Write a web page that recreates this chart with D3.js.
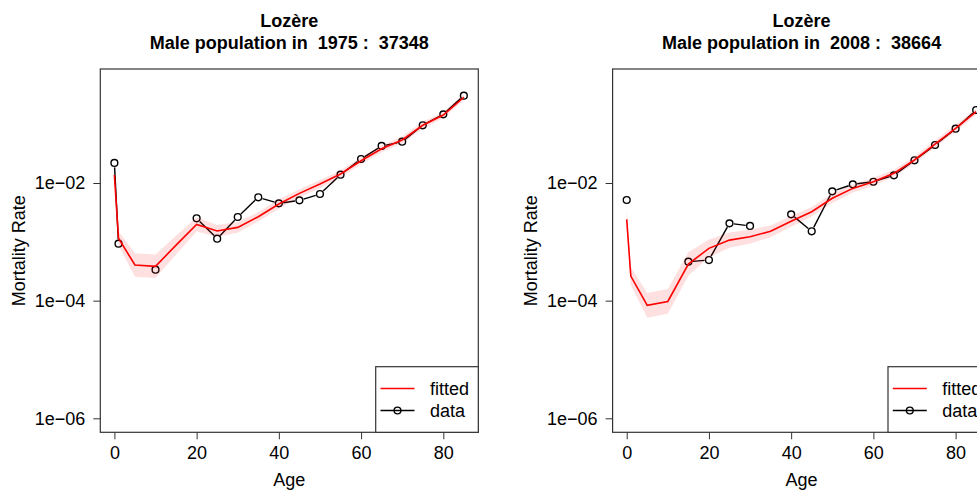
<!DOCTYPE html>
<html>
<head>
<meta charset="utf-8">
<script src="https://cdn.jsdelivr.net/npm/d3@7"></script>
<style>
  html, body { margin: 0; padding: 0; background: #fff; }
  svg { display: block; font-family: "Liberation Sans", Arial, Helvetica, sans-serif; }
  text { white-space: pre; }
</style>
</head>
<body>
<svg id="chart" width="977" height="490"></svg>
<script>
// ---------- data ----------
const ages = [0, 1, 5, 10, 15, 20, 25, 30, 35, 40, 45, 50, 55, 60, 65, 70, 75, 80, 85];

const region = "Lozère";
const years = [1975, 2008];
const populations = [37348, 38664];

// 1975
const data1975 = [0.0219, 0.00093, null, 0.000336, null, 0.00251, 0.00113, 0.00264, 0.00571, 0.00451,
                  0.00507, 0.0065, 0.01384, 0.0256, 0.0426, 0.0504, 0.0957, 0.147, 0.305];
const fitted1975 = [0.0137, 0.00115, 0.000403, 0.000383, 0.00088, 0.00198, 0.00153, 0.00176, 0.00267, 0.0044,
                    0.00667, 0.0096, 0.0142, 0.0239, 0.0383, 0.0538, 0.0957, 0.143, 0.287];
const lower1975 = [0.01088, 0.000873, 0.000254, 0.000242, 0.000609, 0.001502, 0.001215, 0.001431, 0.002221, 0.00366,
                   0.00568, 0.00817, 0.01237, 0.0208, 0.0334, 0.0469, 0.0834, 0.1274, 0.2558];
const upper1975 = [0.01725, 0.001516, 0.000639, 0.000607, 0.001272, 0.00261, 0.001926, 0.002165, 0.00321, 0.00529,
                   0.00784, 0.01128, 0.0163, 0.0274, 0.044, 0.0618, 0.1099, 0.1604, 0.322];

// 2008
const data2008 = [0.00514, null, null, null, 0.000459, 0.00049, 0.00206, 0.00186, null, 0.00293,
                  0.00151, 0.00721, 0.00949, 0.0105, 0.0135, 0.0243, 0.0443, 0.0838, 0.174];
const fitted2008 = [0.00241, 0.000262, 0.000083, 0.000097, 0.000419, 0.000775, 0.00107, 0.00122, 0.00151, 0.00223,
                    0.00325, 0.0055, 0.0081, 0.0105, 0.0146, 0.0246, 0.046, 0.085, 0.163];
const lower2008 = [0.00163, 0.0001854, 0.0000512, 0.0000598, 0.0002644, 0.000548, 0.000793, 0.000925, 0.001199, 0.001813,
                   0.002704, 0.004576, 0.006894, 0.008936, 0.01272, 0.02143, 0.04007, 0.07404, 0.1453];
const upper2008 = [0.003565, 0.0003702, 0.0001346, 0.0001573, 0.000664, 0.001095, 0.001443, 0.001608, 0.001901, 0.002743,
                   0.003907, 0.00661, 0.00952, 0.01234, 0.01676, 0.02824, 0.0528, 0.0976, 0.1829];

const xTicks = [0, 20, 40, 60, 80];
const yTicks = [1e-6, 1e-4, 1e-2];
const yTickLabels = ["1e\u221206", "1e\u221204", "1e\u221202"];
const legendLabels = ["fitted", "data"];

// ---------- layout ----------
const svg = d3.select("#chart");
const FONT = 18;
const panelShift = 512.3;
const box = { left: 100.3, top: 69, right: 478.3, bottom: 432.3 };

function drawPanel(offset, year, pop, dat, fit, lo, hi) {
  const g = svg.append("g").attr("transform", `translate(${offset},0)`);
  const x = d3.scaleLinear().domain([0, 80]).range([114.4, 443.3]);
  const y = d3.scaleLog().domain([1e-6, 1e-2]).range([418.3, 183]);
  const cx = (box.left + box.right) / 2;

  // titles
  g.append("text").attr("x", cx).attr("y", 27).attr("text-anchor", "middle")
    .attr("font-size", FONT).attr("font-weight", "bold").text(region);
  g.append("text").attr("x", cx).attr("y", 49).attr("text-anchor", "middle")
    .attr("font-size", FONT).attr("font-weight", "bold")
    .text(`Male population in  ${year} :  ${pop}`);

  // data (type "b": points with gapped segments)
  const pts = ages.map((a, i) => dat[i] == null ? null : [x(a), y(dat[i])]);
  const gap = 4.4;
  for (let i = 0; i < pts.length - 1; i++) {
    const p = pts[i], q = pts[i + 1];
    if (!p || !q) continue;
    const dx = q[0] - p[0], dy = q[1] - p[1];
    const d = Math.hypot(dx, dy);
    if (d <= 2 * gap) continue;
    const ux = dx / d, uy = dy / d;
    g.append("line")
      .attr("x1", p[0] + ux * gap).attr("y1", p[1] + uy * gap)
      .attr("x2", q[0] - ux * gap).attr("y2", q[1] - uy * gap)
      .attr("stroke", "#000").attr("stroke-width", 1.4);
  }
  g.selectAll("circle.pt").data(pts.filter(p => p)).join("circle")
    .attr("class", "pt")
    .attr("cx", d => d[0]).attr("cy", d => d[1]).attr("r", 3.4)
    .attr("fill", "none").attr("stroke", "#000").attr("stroke-width", 1.4);

  // confidence band
  const area = d3.area()
    .x((d, i) => x(ages[i]))
    .y0((d, i) => y(lo[i]))
    .y1((d, i) => y(hi[i]));
  g.append("path").datum(ages).attr("d", area)
    .attr("fill", "rgb(255,0,0)").attr("fill-opacity", 0.12).attr("stroke", "none");

  // fitted line
  const line = d3.line().x((d, i) => x(ages[i])).y((d, i) => y(fit[i]));
  g.append("path").datum(ages).attr("d", line)
    .attr("fill", "none").attr("stroke", "#ff0000").attr("stroke-width", 1.6);

  // box
  g.append("rect").attr("x", box.left).attr("y", box.top)
    .attr("width", box.right - box.left).attr("height", box.bottom - box.top)
    .attr("fill", "none").attr("stroke", "#333").attr("stroke-width", 1.2);

  // axes
  const xAxis = d3.axisBottom(x).tickValues(xTicks).tickSize(7).tickPadding(7.4).tickFormat(d3.format("d"));
  const gx = g.append("g").attr("transform", `translate(0,${box.bottom})`).call(xAxis);
  gx.select(".domain").remove();
  gx.selectAll("text").attr("font-size", FONT).attr("font-family", null).attr("fill", "#000");
  gx.selectAll("line").attr("stroke", "#333");

  const yAxis = d3.axisLeft(y).tickValues(yTicks).tickSize(7).tickPadding(8)
    .tickFormat((d, i) => yTickLabels[i]);
  const gy = g.append("g").attr("transform", `translate(${box.left},0)`).call(yAxis);
  gy.select(".domain").remove();
  gy.selectAll("text").attr("font-size", FONT).attr("font-family", null).attr("fill", "#000");
  gy.selectAll("line").attr("stroke", "#333");

  // axis titles
  g.append("text").attr("x", cx).attr("y", 486).attr("text-anchor", "middle")
    .attr("font-size", FONT).text("Age");
  g.append("text").attr("transform", `translate(25,${(box.top + box.bottom) / 2}) rotate(-90)`)
    .attr("text-anchor", "middle").attr("font-size", FONT).text("Mortality Rate");

  // legend (bottomright)
  const lg = g.append("g");
  lg.append("rect").attr("x", 375.7).attr("y", 366.7)
    .attr("width", box.right - 375.7).attr("height", box.bottom - 366.7)
    .attr("fill", "#fff").attr("stroke", "#333").attr("stroke-width", 1.2);
  lg.append("line").attr("x1", 380.5).attr("x2", 414.5).attr("y1", 388.5).attr("y2", 388.5)
    .attr("stroke", "#ff0000").attr("stroke-width", 1.6);
  lg.append("line").attr("x1", 380.5).attr("x2", 414.5).attr("y1", 410.5).attr("y2", 410.5)
    .attr("stroke", "#000").attr("stroke-width", 1.4);
  lg.append("circle").attr("cx", 397.5).attr("cy", 410.5).attr("r", 3.4)
    .attr("fill", "none").attr("stroke", "#000").attr("stroke-width", 1.4);
  lg.append("text").attr("x", 430).attr("y", 395).attr("font-size", FONT).text(legendLabels[0]);
  lg.append("text").attr("x", 430).attr("y", 417).attr("font-size", FONT).text(legendLabels[1]);
}

drawPanel(0, years[0], populations[0], data1975, fitted1975, lower1975, upper1975);
drawPanel(panelShift, years[1], populations[1], data2008, fitted2008, lower2008, upper2008);
</script>
</body>
</html>
